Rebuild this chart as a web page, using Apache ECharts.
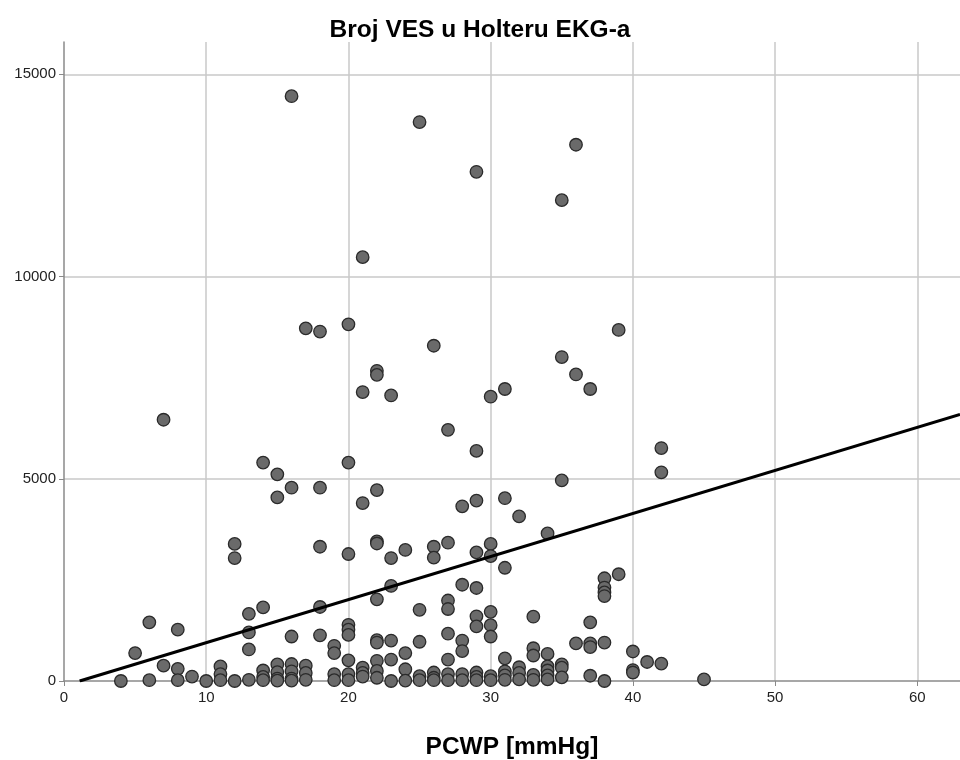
<!DOCTYPE html>
<html>
<head>
<meta charset="utf-8">
<script src="https://cdn.jsdelivr.net/npm/echarts@6/dist/echarts.min.js"></script>
<style>
html,body{margin:0;padding:0;background:#fff;}
#chart{width:960px;height:760px;}
</style>
</head>
<body>
<div id="chart"></div>
<script>
// PCWP [mmHg] values (x) and VES counts (y), paired by index
const pcwp = [
16,25,29,36,35,21,17,18,20,26,39,7,22,22,21,23,30,31,35,36,37,
27,29,42,42,14,15,16,18,15,20,21,22,35,28,29,31,32,34,
12,12,18,20,22,22,23,24,26,26,27,29,30,30,31,
6,13,14,18,22,23,25,27,27,28,29,29,30,33,37,38,38,38,38,39,
8,5,13,13,16,18,19,19,20,20,20,20,22,22,23,24,25,27,27,28,28,29,30,30,31,33,33,34,36,37,37,38,40,41,42,22,23,
4,6,7,8,8,9,10,11,11,11,12,13,14,14,14,15,15,15,15,16,16,16,16,17,17,17,
19,19,20,20,21,21,21,22,22,23,24,24,25,25,26,26,26,27,27,28,28,29,29,29,
30,30,31,31,31,32,32,32,33,33,34,34,34,34,35,35,35,37,38,40,40,45
];
const ves = [
14460,13820,12590,13260,11890,10480,8720,8640,8820,8290,8680,6460,7670,7570,7145,7060,7030,7220,8010,7580,7220,
6210,5690,5760,5160,5400,5110,4780,4780,4540,5400,4400,4720,4960,4320,4460,4520,4070,3650,
3390,3040,3320,3140,3450,3400,3040,3240,3320,3050,3420,3180,3390,3090,2800,
1450,1660,1820,1830,2020,2350,1760,1990,1780,2380,2300,1600,1710,1590,1450,2540,2310,2190,2100,2640,
1270,690,1200,780,1100,1130,870,690,1390,1270,1140,510,1010,950,1000,690,970,1170,530,1000,740,1350,1380,1100,560,810,630,670,930,930,840,950,730,470,430,500,530,
0,20,380,300,20,110,0,360,170,20,0,30,260,100,20,410,220,60,10,420,240,60,10,380,200,30,
170,20,170,20,330,200,110,250,80,0,290,10,120,20,210,80,20,170,20,170,20,210,100,20,
120,20,240,140,30,340,200,40,150,30,360,260,140,40,410,330,90,130,0,270,210,40
];
// Fit line endpoints
const fitX = [1.1, 63];
const fitY = [0, 6590];
// Axis settings
const xTicks = [0, 10, 20, 30, 40, 50, 60];
const yTicks = [0, 5000, 10000, 15000];

const points = pcwp.map((x, i) => [x, ves[i]]);
const fitLine = fitX.map((x, i) => [x, fitY[i]]);

const chart = echarts.init(document.getElementById('chart'), null, {renderer: 'canvas'});
const FONT = '"Liberation Sans", Arial, sans-serif';
chart.setOption({
  animation: false,
  backgroundColor: '#ffffff',
  title: {
    text: 'Broj VES u Holteru EKG-a',
    left: 'center',
    top: 13,
    textStyle: {fontFamily: FONT, fontSize: 24.5, fontWeight: 'bold', color: '#000'}
  },
  grid: {left: 64, right: 0, top: 42, bottom: 79, containLabel: false, outerBoundsMode: 'none'},
  xAxis: {
    type: 'value',
    min: 0, max: 63, interval: 10,
    name: 'PCWP [mmHg]',
    nameLocation: 'middle',
    nameGap: 54,
    nameTextStyle: {fontFamily: FONT, fontSize: 24.5, fontWeight: 'bold', color: '#000'},
    axisLine: {show: true, lineStyle: {color: '#8a8a8a', width: 1.5}},
    axisTick: {show: true, length: 5, lineStyle: {color: '#8a8a8a'}},
    axisLabel: {fontFamily: FONT, fontSize: 15, color: '#222', margin: 9, showMaxLabel: false,
      formatter: v => xTicks.includes(v) ? String(v) : ''},
    splitLine: {show: true, showMinLine: false, showMaxLine: false, lineStyle: {color: '#c8c8c8', width: 1.5}}
  },
  yAxis: {
    type: 'value',
    min: 0, max: 15800, interval: 5000,
    axisLine: {show: true, lineStyle: {color: '#8a8a8a', width: 1.5}},
    axisTick: {show: true, length: 5, lineStyle: {color: '#8a8a8a'}},
    axisLabel: {fontFamily: FONT, fontSize: 15, color: '#222', margin: 8, showMaxLabel: false,
      formatter: v => yTicks.includes(v) ? String(v) : ''},
    splitLine: {show: true, showMinLine: false, showMaxLine: false, lineStyle: {color: '#c8c8c8', width: 1.5}}
  },
  series: [
    {
      type: 'scatter',
      data: points,
      symbol: 'circle',
      symbolSize: 12.5,
      itemStyle: {color: '#6a6a6a', borderColor: '#2a2a2a', borderWidth: 1.3, opacity: 1},
      z: 2
    },
    {
      type: 'line',
      data: fitLine,
      symbol: 'none',
      lineStyle: {color: '#000', width: 3},
      z: 3
    }
  ]
});
</script>
</body>
</html>
